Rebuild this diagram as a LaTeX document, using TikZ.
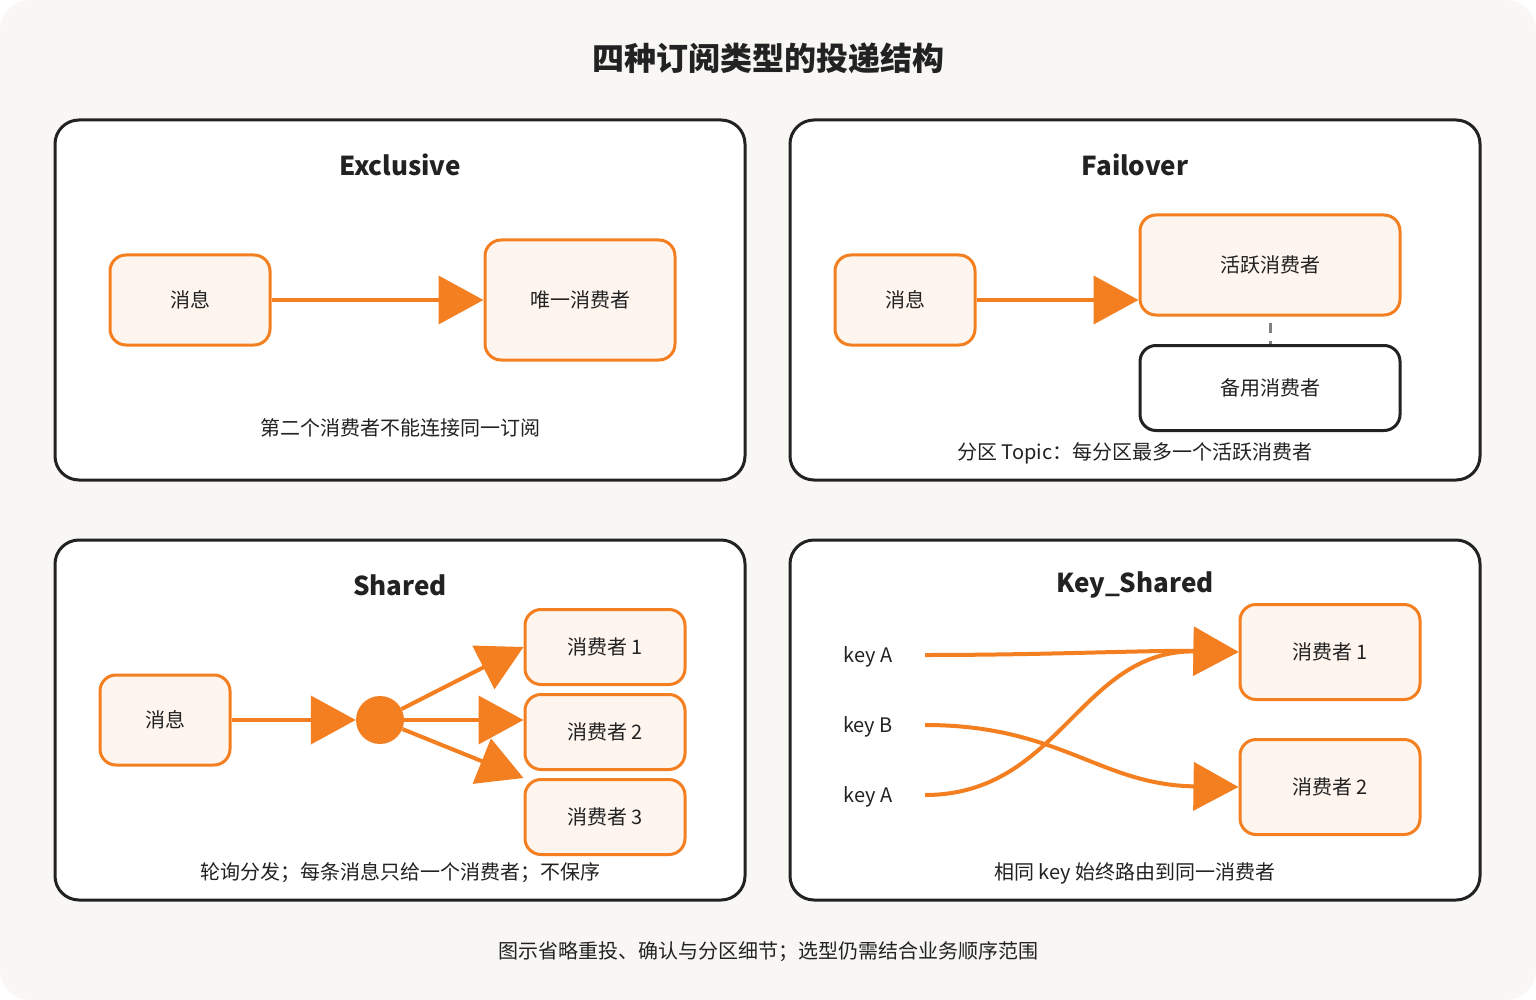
\documentclass[tikz,border=0pt]{standalone}
\usepackage{fontspec}
\setmainfont{Noto Sans CJK SC}
\usetikzlibrary{arrows.meta}
\definecolor{org}{HTML}{F47F20}
\definecolor{ofill}{HTML}{FEF5EE}
\definecolor{bg}{HTML}{F8F7F4}
\definecolor{txt}{HTML}{222222}
\begin{document}
\begin{tikzpicture}[x=1pt,y=-1pt,
  panel/.style={draw=txt,line width=3pt,fill=white,rounded corners=24pt},
  obox/.style={draw=org,line width=3pt,fill=ofill,rounded corners=16pt,inner sep=0pt,font=\fontsize{20}{24}\selectfont,text=txt},
  kbox/.style={draw=txt,line width=3pt,fill=white,rounded corners=16pt,inner sep=0pt,font=\fontsize{20}{24}\selectfont,text=txt},
  ptitle/.style={font=\bfseries\fontsize{26}{30}\selectfont,text=txt},
  note/.style={font=\fontsize{20}{24}\selectfont,text=txt},
  arr/.style={draw=org,line width=4pt,-{Triangle[length=45pt,width=48pt]}},
  wire/.style={draw=org,line width=4pt}]
\useasboundingbox (0,0) rectangle (1536,1000);
\fill[bg,rounded corners=30pt] (0,0) rectangle (1536,1000);
\node[font=\bfseries\fontsize{32}{36}\selectfont,text=txt] (title) at (768,58) {四种订阅类型的投递结构};
\draw[panel] (55,120) rectangle (745,480);
\draw[panel] (790,120) rectangle (1480,480);
\draw[panel] (55,540) rectangle (745,900);
\draw[panel] (790,540) rectangle (1480,900);
% Exclusive
\node[ptitle] (t1) at (400,165) {Exclusive};
\node[obox,minimum width=160pt,minimum height=90pt] (em) at (190,300) {消息};
\node[obox,minimum width=190pt,minimum height=120pt] (ec) at (580,300) {唯一消费者};
\draw[arr] (em.east) -- (ec.west);
\node[note] (n1) at (400,428) {第二个消费者不能连接同一订阅};
% Failover
\node[ptitle] (t2) at (1135,165) {Failover};
\node[obox,minimum width=140pt,minimum height=90pt] (fm) at (905,300) {消息};
\node[obox,minimum width=260pt,minimum height=100pt] (fa) at (1270,265) {活跃消费者};
\node[kbox,minimum width=260pt,minimum height=85pt] (fs) at (1270,388) {备用消费者};
\draw[arr] (fm.east) -- (fa.west |- fm.east);
\draw[gray,line width=3pt,dash pattern=on 10pt off 8pt] (fa.south) ++(0,6) -- (fs.north);
\node[note] (n2) at (1135,453) {分区 Topic：每分区最多一个活跃消费者};
% Shared
\node[ptitle] (t3) at (400,585) {Shared};
\node[obox,minimum width=130pt,minimum height=90pt] (sm) at (165,720) {消息};
\node[circle,fill=org,minimum size=48pt,inner sep=0pt] (hub) at (380,720) {};
\node[obox,minimum width=160pt,minimum height=75pt] (s1) at (605,647) {消费者 1};
\node[obox,minimum width=160pt,minimum height=75pt] (s2) at (605,732) {消费者 2};
\node[obox,minimum width=160pt,minimum height=75pt] (s3) at (605,817) {消费者 3};
\draw[arr] (sm.east) -- (hub.west);
\draw[arr] (hub) -- (s1.west);
\draw[arr] (hub.east) -- (s2.west |- hub.east);
\draw[arr] (hub) -- (s3.north west);
\node[note] (n3) at (400,873) {轮询分发；每条消息只给一个消费者；不保序};
% Key_Shared
\node[ptitle] (t4) at (1135,585) {Key\_Shared};
\node[note] (ka) at (868,657) {key A};
\node[note] (kb) at (868,727) {key B};
\node[note] (kc) at (868,797) {key A};
\coordinate (pa) at (925,655);
\coordinate (pb) at (925,725);
\coordinate (pc) at (925,795);
\node[obox,minimum width=180pt,minimum height=95pt] (k1) at (1330,652) {消费者 1};
\node[obox,minimum width=180pt,minimum height=95pt] (k2) at (1330,787) {消费者 2};
\draw[arr] (pa) .. controls (1050,655) and (1150,650) .. (k1.west);
\draw[arr] (pc) .. controls (1060,795) and (1080,650) .. (k1.west);
\draw[arr] (pb) .. controls (1060,725) and (1100,785) .. (k2.west);
\node[note] (n4) at (1135,873) {相同 key 始终路由到同一消费者};
\node[note] (foot) at (768,952) {图示省略重投、确认与分区细节；选型仍需结合业务顺序范围};
\end{tikzpicture}
\end{document}
